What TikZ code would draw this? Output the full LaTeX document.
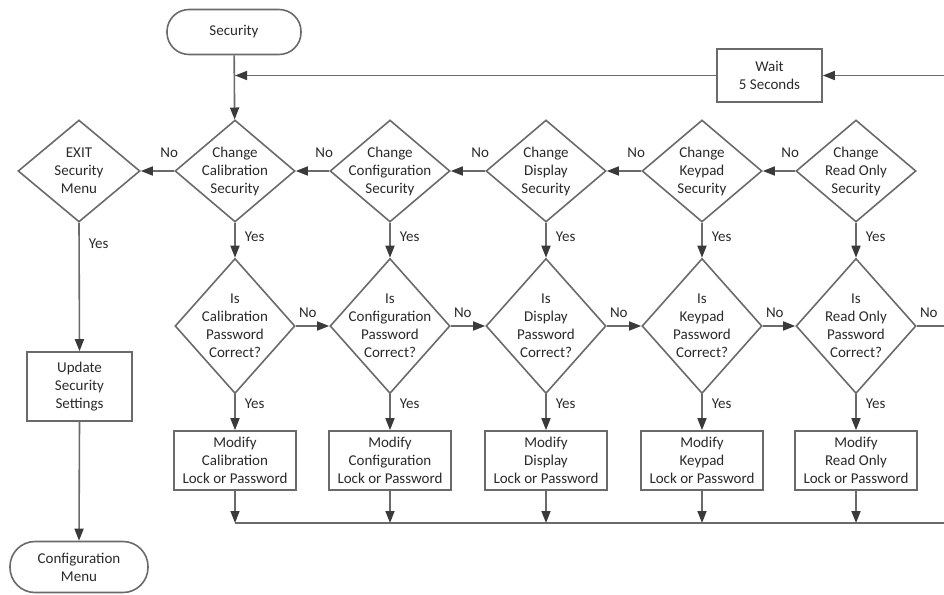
\documentclass[tikz,border=0pt]{standalone}
\usepackage{fontspec}
\setmainfont{Carlito}
\usetikzlibrary{arrows.meta,shapes.geometric}
\definecolor{linec}{HTML}{6A6A6A}
\definecolor{tipc}{HTML}{3A3A3A}
\definecolor{txtc}{HTML}{2A2A2A}
\begin{document}
\begin{tikzpicture}[x=1pt,y=-1pt,
  txt/.style={font=\fontsize{15}{18}\selectfont, text=txtc, align=center},
  line/.style={draw=linec, line width=1.6pt},
  arr/.style={line, -{Triangle[width=9pt,length=12pt,color=tipc]}},
  boxnode/.style={txt, draw=linec, line width=1.6pt, inner sep=0pt},
  term/.style={boxnode, rounded corners=22pt},
  dia/.style={shape=diamond, draw=linec, line width=1.6pt, inner sep=0pt,
    minimum width=120pt, minimum height=102pt},
  pdia/.style={dia, minimum height=135pt},
  every label/.style={txt, inner sep=0pt},
  modbox/.style={boxnode, minimum width=122pt, minimum height=59pt},
  nochg/.style={txt, pos=0, anchor=center, inner sep=0pt, xshift=-5pt, yshift=18pt},
  nopass/.style={txt, pos=0, anchor=center, inner sep=0pt, xshift=12pt, yshift=13pt},
  yes/.style={txt, anchor=west, inner sep=0pt, xshift=9pt}]
\useasboundingbox (0,0) rectangle (944,594);

% terminals and boxes
\node[term, minimum width=134pt, minimum height=45pt] (sec) at (234,32) {Security};
\node[boxnode, minimum width=105pt, minimum height=53pt] (wait) at (769.5,75.5) {Wait\\5 Seconds};
\node[dia, minimum width=122pt, label=center:{EXIT\\Security\\Menu}] (exit) at (79,171) {};
\node[boxnode, minimum width=105pt, minimum height=69pt] (upd) at (79.5,386.5) {Update\\Security\\Settings};
\node[term, rounded corners=25pt, minimum width=138pt, minimum height=51pt] (cfg) at (79,567) {Configuration\\Menu};

% change diamonds
\node[dia, label=center:{Change\\Calibration\\Security}] (c1) at (235,171) {};
\node[dia, label=center:{Change\\Configuration\\Security}] (c2) at (390,171) {};
\node[dia, label=center:{Change\\Display\\Security}] (c3) at (546,171) {};
\node[dia, label=center:{Change\\Keypad\\Security}] (c4) at (702,171) {};
\node[dia, label=center:{Change\\Read Only\\Security}] (c5) at (856,171) {};

% password diamonds
\node[pdia, label=center:{Is\\Calibration\\Password\\Correct?}] (p1) at (235,326) {};
\node[pdia, label=center:{Is\\Configuration\\Password\\Correct?}] (p2) at (390,326) {};
\node[pdia, label=center:{Is\\Display\\Password\\Correct?}] (p3) at (546,326) {};
\node[pdia, label=center:{Is\\Keypad\\Password\\Correct?}] (p4) at (702,326) {};
\node[pdia, label=center:{Is\\Read Only\\Password\\Correct?}] (p5) at (856,326) {};

% modify boxes
\node[modbox] (m1) at (235,460.5) {Modify\\Calibration\\Lock or Password};
\node[modbox] (m2) at (390,460.5) {Modify\\Configuration\\Lock or Password};
\node[modbox] (m3) at (546,460.5) {Modify\\Display\\Lock or Password};
\node[modbox] (m4) at (702,460.5) {Modify\\Keypad\\Lock or Password};
\node[modbox] (m5) at (856,460.5) {Modify\\Read Only\\Lock or Password};

% free ends at the right border
\coordinate (topR) at (944,75.5);
\coordinate (noR) at (944,326);
\coordinate (botR) at (944,523);

% connectors
\draw[arr] (sec) -- (c1);
\draw[arr] (topR) -- (wait);
\draw[arr] (wait.west) -- (wait.west -| c1);

\draw[arr] (c1.west) -- node[nochg]{No} (exit.east);
\draw[arr] (c2.west) -- node[nochg]{No} (c1.east);
\draw[arr] (c3.west) -- node[nochg]{No} (c2.east);
\draw[arr] (c4.west) -- node[nochg]{No} (c3.east);
\draw[arr] (c5.west) -- node[nochg]{No} (c4.east);

\foreach \i in {1,...,5}{
  \draw[arr] (c\i.south) -- node[yes, pos=0.4]{Yes} (p\i.north);
  \draw[arr] (p\i.south) -- node[yes, pos=0.25]{Yes} (m\i.north);
  \draw[arr] (m\i.south) -- (m\i |- botR);
}

\draw[arr] (p1.east) -- node[nopass]{No} (p2.west);
\draw[arr] (p2.east) -- node[nopass]{No} (p3.west);
\draw[arr] (p3.east) -- node[nopass]{No} (p4.west);
\draw[arr] (p4.east) -- node[nopass]{No} (p5.west);
\draw[line] (p5.east) -- node[nopass]{No} (noR);

\draw[line] (m1 |- botR) -- (botR);

\draw[arr] (exit.south) -- node[yes, pos=0.16]{Yes} (upd.north);
\draw[arr] (upd.south) -- (cfg.north);
\end{tikzpicture}
\end{document}
